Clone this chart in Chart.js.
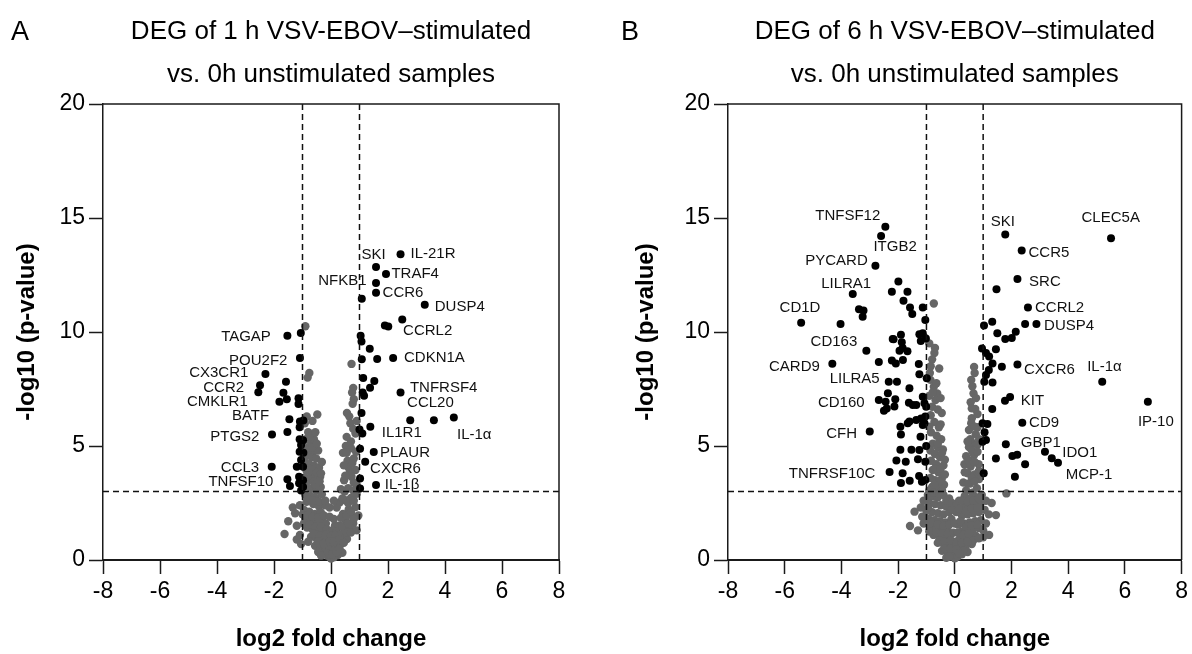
<!DOCTYPE html>
<html><head><meta charset="utf-8">
<script src="https://cdn.jsdelivr.net/npm/chart.js@4.4.0/dist/chart.umd.min.js"></script>
<style>
html,body{margin:0;padding:0;background:#fff;}
#wrap{position:relative;width:1192px;height:654px;overflow:hidden;}
.panel{position:absolute;top:0;width:596px;height:654px;}
</style></head><body>
<div id="wrap">
<div class="panel" style="left:0"><canvas id="cA" width="596" height="654"></canvas></div>
<div class="panel" style="left:596px"><canvas id="cB" width="596" height="654"></canvas></div>
</div>
<script>
// ---------- data ----------
const xTicks = [-8,-6,-4,-2,0,2,4,6,8];
const yTicks = [0,5,10,15,20];
const xRange = [-8, 8];
const yRange = [0, 20];
const fcCutoffs = [-1, 1];
const pCutoff = 3;

const titleA = ['DEG of 1 h VSV-EBOV\u2013stimulated', 'vs. 0h unstimulated samples'];
const titleB = ['DEG of 6 h VSV-EBOV\u2013stimulated', 'vs. 0h unstimulated samples'];
const xTitle = 'log2 fold change';
const yTitle = '-log10 (p-value)';

const sigA = [
[2.44,13.41],[1.58,12.85],[1.93,12.54],[1.58,12.15],[1.58,11.72],[1.08,11.46],[3.29,11.2],
[1.89,10.28],[2.01,10.24],[2.5,10.55],[1.04,9.84],[1.07,9.58],[1.36,9.26],
[1.08,8.8],[1.62,8.82],[2.18,8.86],[1.13,7.98],[1.52,7.85],[1.37,7.55],[1.11,7.35],[1.16,7.2],[2.44,7.35],
[1.07,6.45],[2.78,6.13],[3.61,6.13],[4.31,6.25],[1.38,5.84],[1.0,5.72],[1.1,5.55],
[1.02,4.88],[1.5,4.74],[1.2,4.31],[1.02,3.58],[1.58,3.29],[1.02,3.14],
[-1.53,9.84],[-1.06,9.96],[-1.09,8.86],[-2.3,8.16],[-2.49,7.66],[-2.55,7.36],[-1.58,7.82],
[-1.67,7.34],[-1.55,7.05],[-1.81,6.94],[-1.14,7.09],[-1.14,6.84],[-1.46,6.17],[-1.09,6.07],[-0.97,6.12],[-1.1,5.82],
[-2.07,5.5],[-1.53,5.61],[-1.1,5.3],[-0.98,5.25],[-1.05,5.04],[-1.1,4.75],[-0.97,4.7],[-1.05,4.39],[-0.98,4.09],[-1.2,4.09],[-2.08,4.09],
[-1.53,3.54],[-1.44,3.25],[-1.12,3.65],[-0.98,3.5],[-1.12,3.37],[-0.98,3.2],[-1.05,3.05]
];
const nsA = [
[-0.9,10.25],[-0.76,8.2],[-0.82,8.0],[-0.48,6.38],[0.72,8.6],[0.78,7.55],[0.74,7.35],[0.8,7.05],[0.76,6.85],[0.56,6.45],[0.64,6.3],[0.78,5.75],[0.86,5.55],
[-0.92,6.0],[-0.8,5.6],[-0.88,5.3],[-0.7,5.15],[-0.9,4.95],[-0.78,4.85],[-0.62,4.75],[-0.86,4.6],[-0.68,4.5],[-0.52,4.45],[-0.92,4.3],[-0.76,4.2],[-0.58,4.12],[-0.42,4.05],
[-0.86,3.92],[-0.7,3.82],[-0.55,3.72],[-0.92,3.62],[-0.76,3.52],[-0.62,3.42],[-0.46,3.35],[-0.86,3.22],[-0.7,3.12],[-0.52,3.05],[-0.36,3.2],[-0.38,3.65],[-0.32,4.3],[-0.6,5.3],[-0.45,4.8],
[-0.95,4.5],[-0.8,4.0],[-0.65,3.95],[-0.5,3.85],[-0.35,3.8],[-0.9,3.4],[-0.55,3.3],[-0.4,3.45],[-0.65,4.95],[-0.5,5.1],[-0.75,5.4],[-0.55,5.6],[-0.65,6.1],[-0.85,6.3],
[0.52,5.0],[0.7,4.9],[0.88,4.75],[0.58,4.35],[0.8,4.45],[0.62,4.05],[0.86,3.95],[0.72,3.65],[0.46,3.5],[0.9,3.3],[0.6,3.15],[0.78,3.05],[0.42,4.7],[0.48,3.0],
[0.7,5.2],[0.55,4.7],[0.75,4.25],[0.45,4.15],[0.65,3.8],[0.5,3.7],[0.8,3.4],[0.35,3.1],[0.55,5.4],[0.68,6.0],[0.9,6.1],
[-1.34,2.3],[-1.09,2.4],[-1.26,2.05],[-1.63,1.14],[-1.09,1.1],[-0.9,2.85],[-0.72,2.8],[-0.54,2.72],[-0.32,2.88],[-0.86,2.55],[-0.62,2.45],[-0.42,2.35],
[-0.95,2.2],[-0.76,2.12],[-0.56,2.02],[-0.36,2.1],[-0.9,1.82],[-0.7,1.72],[-0.5,1.62],[-0.3,1.7],[-0.84,1.42],[-0.64,1.32],[-0.44,1.22],[-0.24,1.32],
[-0.7,1.02],[-0.5,0.92],[-0.3,0.82],[-0.14,0.95],[-0.56,0.62],[-0.36,0.52],[-0.2,0.42],[-0.08,0.62],[-0.3,0.22],[-0.12,0.18],[0,0.06],[-0.45,0.35],[-0.18,1.6],[-0.2,2.4],[-0.8,0.8],
[0.9,2.9],[0.7,2.72],[0.5,2.62],[0.3,2.52],[0.86,2.32],[0.62,2.22],[0.42,2.02],[0.2,2.3],[0.76,1.92],[0.52,1.72],[0.3,1.52],[0.78,1.6],[0.66,1.42],[0.46,1.22],[0.26,1.02],
[0.08,1.02],[0.56,0.92],[0.36,0.72],[0.16,0.6],[0.4,0.32],[0.24,0.22],[0.1,0.12],[0.96,1.95],[0.9,1.3],[0.14,1.5],[0.06,0.4],[0.2,0.9],
[-0.8,2.65],[-0.6,2.6],[-0.4,2.55],[-0.2,2.6],[-0.05,2.3],[0.1,2.6],[0.4,2.7],[0.6,2.5],[0.8,2.6],[-1.0,2.0],[-0.85,1.95],[-0.65,1.9],[-0.45,1.85],[-0.25,1.95],
[-0.05,1.9],[0.1,1.8],[0.35,1.85],[0.55,1.95],[0.7,2.1],[-0.95,1.6],[-0.75,1.55],[-0.55,1.45],[-0.35,1.45],[-0.15,1.35],[0.05,1.3],[0.2,1.25],[0.4,1.45],[0.6,1.6],
[0.8,1.8],[-0.6,1.15],[-0.4,1.05],[-0.2,1.1],[0,1.05],[0.15,1.1],[0.35,1.1],[0.55,1.2],[0.7,1.2],[-0.45,0.8],[-0.25,0.7],[-0.05,0.8],[0.1,0.8],[0.3,0.9],[0.45,0.75],
[-0.15,0.3],[0.05,0.25],[0.2,0.35],[0.3,0.5],[-0.35,0.2],[-1.5,1.7],[-1.2,1.5],[-1.05,0.7],[-1.2,0.9]
];
const labelsA = [
['TAGAP',-2.11,9.77,'right'],['POU2F2',-1.53,8.74,'right'],['CX3CR1',-2.9,8.22,'right'],['CCR2',-3.05,7.53,'right'],
['CMKLR1',-2.92,6.92,'right'],['BATF',-2.17,6.32,'right'],['PTGS2',-2.51,5.38,'right'],['CCL3',-2.52,4.02,'right'],
['TNFSF10',-2.02,3.43,'right'],['NFKB1',1.25,12.24,'right'],['SKI',1.07,13.38,'left'],['IL-21R',2.79,13.42,'left'],
['TRAF4',2.12,12.56,'left'],['CCR6',1.81,11.7,'left'],['DUSP4',3.64,11.11,'left'],['CCRL2',2.53,10.04,'left'],
['CDKN1A',2.56,8.85,'left'],['TNFRSF4',2.77,7.53,'left'],['CCL20',2.67,6.9,'left'],['IL1R1',1.78,5.56,'left'],
['PLAUR',1.72,4.72,'left'],['CXCR6',1.37,3.98,'left'],['IL-1\u03b2',1.89,3.29,'left'],['IL-1\u03b1',4.42,5.48,'left']
];

const sigB = [
[-2.45,14.62],[-2.6,14.21],[-2.8,12.91],[-1.99,12.22],[-2.22,11.77],[-1.67,11.77],[-3.6,11.67],[-1.81,11.37],[-1.58,11.08],[-1.5,10.79],
[-1.13,11.07],[-1.04,10.53],[-3.38,11.0],[-3.22,10.94],[-3.25,10.67],[-5.42,10.41],[-4.03,10.35],[-3.12,9.18],[-2.19,9.69],
[-1.9,9.88],[-2.16,9.68],[-1.87,9.55],[-1.84,9.3],[-1.95,9.18],[-1.67,9.16],[-1.25,9.9],[-1.13,9.94],[-1.2,9.6],[-1.02,9.72],
[-4.32,8.61],[-2.68,8.68],[-2.22,8.75],[-2.08,8.62],[-1.83,8.77],[-1.27,8.6],[-1.25,8.15],[-0.99,7.97],
[-2.33,7.82],[-2.04,7.82],[-1.6,7.53],[-2.36,7.31],[-2.44,6.94],[-2.1,7.05],[-2.13,6.73],[-2.68,7.02],[-2.4,6.65],[-2.5,6.55],
[-1.62,6.9],[-1.48,6.8],[-1.36,6.8],[-1.13,7.16],[-1.07,6.87],[-1.01,6.72],
[-1.6,6.07],[-1.66,6.0],[-1.36,6.14],[-1.19,6.21],[-1.07,6.0],[-1.04,6.29],[-1.13,5.92],
[-3.0,5.64],[-1.92,5.84],[-1.9,5.5],[-1.21,5.41],[-1.92,4.84],[-1.53,4.84],[-1.25,4.82],[-1.01,5.0],
[-2.06,4.36],[-1.73,4.31],[-1.3,4.42],[-1.04,4.31],[-2.3,3.86],[-1.84,3.8],[-1.9,3.38],[-1.59,3.48],[-1.26,3.68],[-1.16,3.43],[-1.04,3.51],
[1.78,14.28],[5.51,14.11],[2.36,13.57],[2.21,12.32],[1.47,11.87],[2.58,11.08],[2.48,10.35],[2.88,10.35],[2.15,10.01],[2.01,9.74],[1.78,9.69],
[1.5,9.94],[1.03,10.28],[1.32,10.45],[0.96,9.28],[1.1,9.08],[1.21,8.92],[1.45,9.24],[1.66,8.48],[1.33,8.62],[1.2,8.33],[1.1,8.11],[1.04,7.82],[1.33,7.78],
[2.21,8.58],[5.2,7.82],[1.95,7.15],[1.77,6.98],[1.32,6.62],[6.81,6.94],[2.38,6.02],
[0.98,6.0],[1.15,5.96],[1.05,5.6],[1.1,5.26],[0.98,5.19],[1.8,5.08],
[3.18,4.75],[3.42,4.46],[3.64,4.27],[1.45,4.45],[2.03,4.56],[2.2,4.62],[2.48,4.2],[1.02,3.8],[2.12,3.65]
];
const nsB = [
[-0.74,11.25],[-0.9,9.5],[-0.72,9.08],[-0.8,8.8],[0.68,8.47],[-0.86,7.9],[-0.74,7.6],[-0.62,7.3],[-0.68,7.02],[-0.8,6.72],[-0.46,6.45],[-0.72,6.05],[-0.56,5.82],
[0.62,7.62],[0.66,7.3],[0.56,6.92],[0.72,6.62],[0.6,6.22],[0.8,5.82],[0.74,5.52],[0.86,5.3],[-0.88,8.2],
[-0.84,5.6],[-0.64,5.45],[-0.48,5.3],[-0.78,5.1],[-0.6,4.95],[-0.86,4.8],[-0.42,4.85],[-0.7,4.65],[-0.52,4.5],[-0.84,4.35],[-0.66,4.2],[-0.4,4.15],
[-0.78,3.95],[-0.58,3.85],[-0.86,3.6],[-0.7,3.5],[-0.46,3.55],[-0.8,3.2],[-0.62,3.15],[-0.38,3.3],[-0.9,3.05],
[-0.9,5.85],[-0.5,5.95],[-0.85,6.35],[-0.6,6.6],[-0.9,7.2],[-0.5,7.1],[-0.78,7.35],[-0.65,7.75],[-0.55,8.4],[-0.85,8.5],[-0.7,9.3],[-0.6,5.1],[-0.45,4.7],
[-0.35,4.4],[-0.7,4.0],[-0.5,4.0],[-0.35,3.75],[-0.55,3.45],[-0.72,3.3],[-0.45,3.05],
[0.58,6.0],[0.66,5.1],[0.5,4.95],[0.4,4.55],[0.68,4.6],[0.34,4.2],[0.56,4.1],[0.84,4.2],[0.46,3.8],[0.7,3.75],[0.86,3.55],[0.3,3.4],[0.54,3.35],[0.78,3.15],[0.4,3.05],[0.62,2.95],
[0.7,8.2],[0.58,7.9],[0.75,7.1],[0.6,6.65],[0.8,6.4],[0.5,5.7],[0.7,5.85],[0.55,5.3],[0.8,5.05],[0.45,5.2],[0.6,4.8],[0.8,4.75],[0.5,4.35],[0.7,4.3],[0.35,3.85],
[0.6,3.6],[0.45,3.35],[0.7,3.45],[0.85,3.9],
[-1.42,2.12],[-1.58,1.49],[1.82,2.92],[1.45,1.97],[1.21,1.1],
[-0.95,2.85],[-0.78,2.8],[-0.6,2.75],[-0.4,2.85],[-0.2,2.7],[-0.9,2.5],[-0.7,2.45],[-0.5,2.4],[-0.3,2.35],[-1.0,2.15],[-0.8,2.1],[-0.6,2.05],[-0.4,2.0],[-0.2,2.1],
[-0.92,1.8],[-0.72,1.75],[-0.52,1.7],[-0.32,1.65],[-0.12,1.8],[-0.85,1.45],[-0.65,1.4],[-0.45,1.35],[-0.25,1.3],[-0.75,1.1],[-0.55,1.05],[-0.35,1.0],[-0.15,1.1],
[-0.6,0.75],[-0.4,0.7],[-0.2,0.65],[-0.05,0.8],[-0.45,0.4],[-0.25,0.35],[-0.1,0.3],[0,0.08],[-0.3,0.1],[-1.1,2.6],[-1.15,1.9],
[0.95,2.85],[0.75,2.75],[0.55,2.7],[0.35,2.8],[0.15,2.6],[0.9,2.45],[0.7,2.4],[0.5,2.35],[0.3,2.3],[1.05,2.2],[0.85,2.1],[0.65,2.05],[0.45,2.0],[0.25,1.95],[0.05,2.1],
[0.92,1.75],[0.72,1.7],[0.52,1.65],[0.32,1.6],[0.12,1.55],[0.85,1.4],[0.65,1.35],[0.45,1.3],[0.25,1.25],[0.75,1.05],[0.55,1.0],[0.35,0.95],[0.15,0.9],
[0.6,0.7],[0.4,0.65],[0.2,0.55],[0.45,0.35],[0.25,0.25],[0.1,0.15],[1.1,1.6],[1.0,1.0],[1.3,2.5],
[-0.75,2.95],[-0.55,2.9],[-0.3,2.6],[-0.1,2.5],[0.05,2.4],[0.25,2.6],[0.45,2.55],[0.65,2.6],[0.85,2.7],[1.1,2.6],[-0.95,2.3],[-0.1,2.2],[0.15,2.25],[0.4,2.15],
[0.6,2.25],[0.8,2.3],[1.2,2.0],[-1.1,1.6],[-0.85,1.65],[-0.6,1.55],[-0.4,1.5],[-0.2,1.55],[0,1.6],[0.2,1.7],[0.4,1.45],[0.6,1.5],[0.8,1.55],[1.0,1.3],
[-0.9,1.25],[-0.65,1.2],[-0.45,1.15],[-0.25,1.15],[-0.05,1.2],[0.1,1.2],[0.3,1.1],[0.5,1.15],[0.65,0.85],[0.85,0.95],[-0.55,0.85],[-0.35,0.8],[-0.15,0.85],
[0.05,0.7],[0.25,0.75],[0.45,0.8],[-0.35,0.5],[-0.15,0.5],[0.05,0.45],[0.3,0.4],[-0.2,0.15],[0.15,0.3],[-1.3,1.3],[-1.2,2.3]
];
const labelsB = [
['TNFSF12',-2.63,15.09,'right'],['ITGB2',-2.87,13.74,'left'],['PYCARD',-3.07,13.13,'right'],['LILRA1',-2.95,12.13,'right'],
['CD1D',-4.74,11.04,'right'],['CD163',-3.44,9.58,'right'],['CARD9',-4.76,8.48,'right'],['LILRA5',-2.65,7.94,'right'],
['CD160',-3.18,6.9,'right'],['CFH',-3.45,5.53,'right'],['TNFRSF10C',-2.8,3.77,'right'],
['SKI',1.27,14.84,'left'],['CLEC5A',4.47,14.99,'left'],['CCR5',2.6,13.48,'left'],['SRC',2.62,12.21,'left'],
['CCRL2',2.83,11.04,'left'],['DUSP4',3.15,10.26,'left'],['CXCR6',2.44,8.33,'left'],['IL-1\u03b1',4.67,8.45,'left'],
['KIT',2.33,6.99,'left'],['IP-10',6.46,6.07,'left'],['CD9',2.62,6.02,'left'],['GBP1',2.33,5.15,'left'],
['IDO1',3.79,4.68,'left'],['MCP-1',3.91,3.73,'left']
];

// ---------- chart ----------
const FONT = '"Liberation Sans", Arial, Helvetica, sans-serif';
Chart.defaults.font.family = FONT;
Chart.defaults.color = '#000';

const decor = {
  id: 'decor',
  afterDatasetsDraw(chart, args, o) {
    const {ctx, chartArea: {left, right, top, bottom}, scales: {x, y}} = chart;
    ctx.save();
    ctx.strokeStyle = '#1a1a1a';
    ctx.lineWidth = 1.5;
    ctx.beginPath();
    ctx.moveTo(left, top); ctx.lineTo(right, top); ctx.lineTo(right, bottom);
    ctx.stroke();
    ctx.fillStyle = '#111';
    ctx.font = '15px ' + FONT;
    ctx.textBaseline = 'middle';
    for (const [t, vx, vy, al] of o.labels) {
      ctx.textAlign = al;
      ctx.fillText(t, x.getPixelForValue(vx), y.getPixelForValue(vy));
    }
    ctx.fillStyle = '#000';
    ctx.font = '26px ' + FONT;
    ctx.textAlign = 'center';
    ctx.textBaseline = 'alphabetic';
    const cx = (left + right) / 2;
    ctx.fillText(o.title[0], cx, 39);
    ctx.fillText(o.title[1], cx, 82);
    ctx.font = '27px ' + FONT;
    ctx.textAlign = 'left';
    ctx.fillText(o.letter, o.letterX, 40);
    ctx.restore();
  }
};

function lineSet(pts) {
  return {data: pts, showLine: true, borderColor: '#111', borderWidth: 1.5, borderDash: [6, 4],
          pointRadius: 0, pointHoverRadius: 0, order: 0, clip: false};
}

function makeChart(id, sig, ns, labels, title, letter, letterX, yWidth, yTitlePad, rightPad) {
  const toPts = arr => arr.map(([x, y]) => ({x, y}));
  const datasets = [
    ...fcCutoffs.map(c => lineSet([{x: c, y: yRange[0]}, {x: c, y: yRange[1]}])),
    lineSet([{x: xRange[0], y: pCutoff}, {x: xRange[1], y: pCutoff}]),
    {data: toPts(sig), backgroundColor: '#000', borderWidth: 0, pointRadius: 4, order: 1, clip: false},
    {data: toPts(ns), backgroundColor: '#666666', borderWidth: 0, pointRadius: 4.2, order: 2, clip: false}
  ];
  return new Chart(document.getElementById(id), {
    type: 'scatter',
    data: {datasets},
    plugins: [decor],
    options: {
      responsive: false, animation: false, devicePixelRatio: 1,
      layout: {padding: {top: 104, right: rightPad, left: 0, bottom: 0}},
      plugins: {legend: {display: false}, tooltip: {enabled: false}, decor: {labels, title, letter, letterX}},
      scales: {
        x: {
          type: 'linear', min: xRange[0], max: xRange[1],
          afterBuildTicks: s => { s.ticks = xTicks.map(v => ({value: v})); },
          afterFit: s => { s.height = 94; },
          ticks: {font: {size: 23}, color: '#000', padding: 4, maxRotation: 0, autoSkip: false},
          grid: {drawOnChartArea: false, drawTicks: true, tickLength: 14, tickColor: '#1a1a1a', tickWidth: 1.5},
          border: {display: true, color: '#1a1a1a', width: 2},
          title: {display: true, text: xTitle, font: {size: 24, weight: 'bold'}, color: '#000', padding: 0}
        },
        y: {
          type: 'linear', min: yRange[0], max: yRange[1],
          afterBuildTicks: s => { s.ticks = yTicks.map(v => ({value: v})); },
          afterFit: s => { s.width = yWidth; },
          ticks: {font: {size: 23}, color: '#000', padding: 4, autoSkip: false},
          grid: {drawOnChartArea: false, drawTicks: true, tickLength: 14, tickColor: '#1a1a1a', tickWidth: 1.5},
          border: {display: true, color: '#1a1a1a', width: 1.5},
          title: {display: true, text: yTitle, font: {size: 24, weight: 'bold'}, color: '#000', padding: {top: yTitlePad, bottom: 0}}
        }
      }
    }
  });
}

makeChart('cA', sigA, nsA, labelsA, titleA, 'A', 11, 103, 13, 37);
makeChart('cB', sigB, nsB, labelsB, titleB, 'B', 25, 132, 36, 10);
</script>
</body></html>
